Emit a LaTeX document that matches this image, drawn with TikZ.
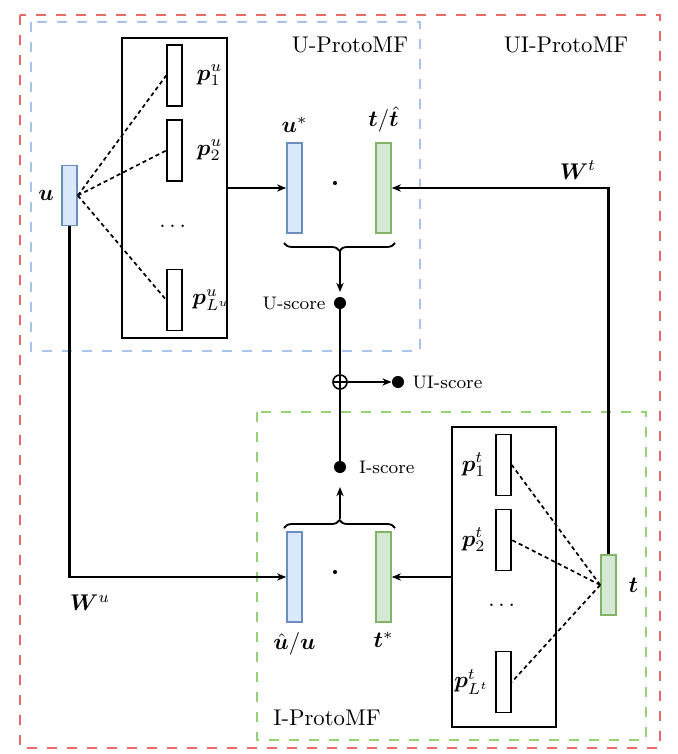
\documentclass[tikz,border=0pt]{standalone}
\usepackage{amsmath,amssymb,bm}
\usepackage{tikz}
\usetikzlibrary{arrows.meta,positioning,calc,decorations.pathreplacing}

\definecolor{vecblue}{HTML}{DAE8FC}
\definecolor{vecblueline}{HTML}{6C8EBF}
\definecolor{vecgreen}{HTML}{D5E8D4}
\definecolor{vecgreenline}{HTML}{82B366}
\definecolor{frameblue}{HTML}{A9C4EB}
\definecolor{framegreen}{HTML}{97D077}
\definecolor{framered}{HTML}{EA6B66}

\tikzset{
  uservec/.style={draw=vecblueline,fill=vecblue,line width=0.7pt,inner sep=0pt,minimum width=6.6pt},
  itemvec/.style={draw=vecgreenline,fill=vecgreen,line width=0.7pt,inner sep=0pt,minimum width=6.6pt},
  protovec/.style={draw,fill=white,line width=0.7pt,inner sep=0pt,minimum width=6.6pt,minimum height=26.8pt},
  protobox/.style={draw,line width=0.9pt,inner sep=0pt,minimum width=46pt,minimum height=132pt},
  scoredot/.style={circle,fill,inner sep=0pt,minimum size=5.3pt},
  dotprod/.style={circle,fill,inner sep=0pt,minimum size=1.8pt},
  conn/.style={line width=0.9pt},
  simline/.style={line width=0.75pt,dash pattern=on 1.8pt off 1.4pt},
  frame/.style={line width=1.2pt,dash pattern=on 4.4pt off 4.4pt},
  brc/.style={decorate,decoration={brace,amplitude=3.5pt},line width=0.8pt},
  tip/.style={-{Stealth[length=4pt,width=3.2pt,inset=1.2pt]}},
  scorelbl/.style={font=\footnotesize},
  veclbl/.style={inner sep=1pt},
}

\begin{document}
\begin{tikzpicture}[x=0.44pt,y=-0.44pt]
  \useasboundingbox (0,0) rectangle (677,754);
  % Rahmen
  \draw[frame,framered] (20,15) rectangle (660,748);
  \draw[frame,frameblue] (31,22) rectangle (420,351);
  \draw[frame,framegreen] (257,412) rectangle (646,740);
  \node (uititle) at (566,45) {UI-ProtoMF};
  \node (utitle) at (350,45) {U-ProtoMF};
  \node (ititle) at (327,718) {I-ProtoMF};

  % U-ProtoMF
  \node[uservec,minimum height=26.4pt] (u) at (69.5,195.5) {};
  \node[veclbl,left=2pt of u] (ulbl) {$\bm{u}$};
  \node[protobox] (uproto) at (174.5,188) {};
  \node[protovec] (pu1) at (174.5,75.5) {};
  \node[protovec] (pu2) at (174.5,150.5) {};
  \node[protovec] (puL) at (174.5,300) {};
  \node[veclbl,right=5pt of pu1] {$\bm{p}^u_1$};
  \node[veclbl,right=5pt of pu2] {$\bm{p}^u_2$};
  \node[veclbl,right=3pt of puL] {$\bm{p}^u_{L^u}$};
  \node (udots) at (174.5,226) {$\dots$};
  \foreach \p in {pu1,pu2,puL}
    \draw[simline] (u.east) -- (\p.west);
  \node[uservec,minimum height=39.6pt] (ustar) at (294.5,188) {};
  \node[itemvec,minimum height=39.6pt] (that) at (383.5,188) {};
  \node[veclbl,above=3pt of ustar] {$\bm{u}^*$};
  \node[veclbl,above=3pt of that] {$\bm{t}/\hat{\bm{t}}$};
  \node[dotprod] (udot) at (335,183) {};
  \draw[conn,tip] (uproto.east) -- (ustar.west);

  % Scores
  \draw[brc] (395,243) -- (284,243);
  \coordinate (ubrace) at (340,251);
  \node[scoredot,label={[scorelbl]left:U-score}] (uscore) at (340,303) {};
  \node[circle,draw,fill=white,line width=0.7pt,inner sep=0pt,minimum size=6.2pt,
    path picture={\draw[line width=0.5pt] (path picture bounding box.north) -- (path picture bounding box.south)
      (path picture bounding box.west) -- (path picture bounding box.east);}] (oplus) at (340,382) {};
  \node[scoredot,label={[scorelbl]right:UI-score}] (uiscore) at (398,382) {};
  \node[scoredot,label={[scorelbl,xshift=2pt]right:I-score}] (iscore) at (340,467) {};
  \draw[conn,tip,shorten >=2pt] (ubrace) -- (uscore);
  \draw[conn] (uscore) -- (oplus);
  \draw[conn,tip] (oplus) -- (uiscore);
  \draw[conn] (oplus) -- (iscore);

  % I-ProtoMF
  \node[uservec,minimum height=39.6pt] (hatu) at (294.5,577) {};
  \node[itemvec,minimum height=39.6pt] (tstar) at (383.5,577) {};
  \node[veclbl,below=3pt of hatu] {$\hat{\bm{u}}/\bm{u}$};
  \node[veclbl,below=3pt of tstar] {$\bm{t}^*$};
  \node[dotprod] (idot) at (335,572) {};
  \draw[brc] (284,528) -- (395,528);
  \coordinate (ibrace) at (340,519);
  \draw[conn,tip,shorten >=6pt] (ibrace) -- (iscore);
  \node[protobox] (iproto) at (504,577) {};
  \node[protovec] (pt1) at (503.5,465) {};
  \node[protovec] (pt2) at (503.5,540) {};
  \node[protovec] (ptL) at (503.5,682) {};
  \node[veclbl,left=3pt of pt1] {$\bm{p}^t_1$};
  \node[veclbl,left=3pt of pt2] {$\bm{p}^t_2$};
  \node[veclbl,left=1.5pt of ptL] {$\bm{p}^t_{L^t}$};
  \node (idots) at (503.5,605) {$\dots$};
  \node[itemvec,minimum height=26.4pt] (t) at (608.5,585) {};
  \node[veclbl,right=4pt of t] (tlbl) {$\bm{t}$};
  \foreach \p in {pt1,pt2,ptL}
    \draw[simline] (t.west) -- (\p.east);
  \draw[conn,line width=1.1pt,tip] (iproto.west) -- (tstar.east);

  % Gewichte
  \draw[conn,tip] (u.south) |- (hatu.west);
  \draw[conn,tip] (t.north) |- (that.east);
  \node (wu) at (90,603) {$\bm{W}^u$};
  \node (wt) at (578,170) {$\bm{W}^t$};
\end{tikzpicture}
\end{document}
